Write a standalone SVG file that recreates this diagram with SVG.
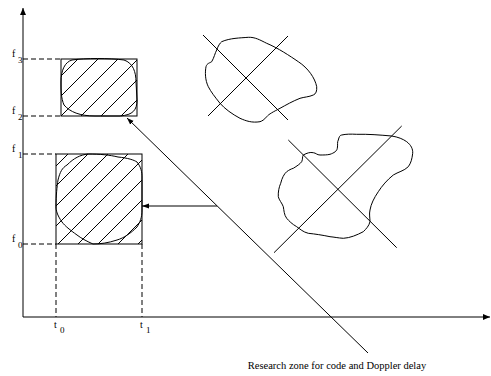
<svg xmlns="http://www.w3.org/2000/svg" width="491" height="376" viewBox="0 0 491 376">
<style>
.ln{stroke:#000;stroke-width:1;fill:none}
.dash{stroke:#000;stroke-width:1;fill:none;stroke-dasharray:5,3}
.lbl{font-family:"Liberation Serif","Times New Roman",serif;font-size:10px;fill:#000}
.sub{font-family:"Liberation Serif","Times New Roman",serif;font-size:9px;fill:#000}
.cap{font-family:"Liberation Serif","Times New Roman",serif;font-size:10.5px;fill:#000}
</style>
<defs>
<marker id="ah" markerWidth="8" markerHeight="6" refX="7" refY="3" orient="auto" markerUnits="userSpaceOnUse">
<path d="M0,0.5 L7,3 L0,5.5 Z" fill="#000"/>
</marker>
<marker id="axh" markerWidth="8" markerHeight="8" refX="7" refY="4" orient="auto" markerUnits="userSpaceOnUse">
<path d="M0,1 L7,4 L0,7 Z" fill="#000"/>
</marker>
<clipPath id="clipTop"><rect x="61" y="59" width="76" height="57"/></clipPath>
<clipPath id="clipBot"><rect x="56" y="154" width="86" height="90"/></clipPath>
</defs>
<rect width="491" height="376" fill="#fff"/>
<g id="axes">
<line class="ln" x1="23" y1="317" x2="23" y2="8" marker-end="url(#axh)"/>
<line class="ln" x1="23" y1="317" x2="490" y2="317" marker-end="url(#axh)"/>
<line class="dash" x1="23" y1="59" x2="61" y2="59"/>
<line class="dash" x1="23" y1="116" x2="61" y2="116"/>
<line class="dash" x1="23" y1="154" x2="56" y2="154"/>
<line class="dash" x1="23" y1="244" x2="56" y2="244"/>
<line class="dash" x1="56" y1="244" x2="56" y2="317"/>
<line class="dash" x1="142" y1="244" x2="142" y2="317"/>
<text class="lbl" x="12" y="57">f</text><text class="sub" x="18" y="63">3</text>
<text class="lbl" x="12" y="114">f</text><text class="sub" x="18" y="120">2</text>
<text class="lbl" x="12" y="152">f</text><text class="sub" x="18" y="158">1</text>
<text class="lbl" x="12" y="242">f</text><text class="sub" x="18" y="248">0</text>
<text class="lbl" x="54" y="328">t</text><text class="sub" x="60" y="333">0</text>
<text class="lbl" x="140" y="328">t</text><text class="sub" x="146" y="333">1</text>
</g>
<g id="zone-top">
<g clip-path="url(#clipTop)" class="ln">
<line x1="0" y1="137" x2="137" y2="0"/>
<line x1="0" y1="157" x2="157" y2="0"/>
<line x1="0" y1="177" x2="177" y2="0"/>
<line x1="0" y1="197" x2="197" y2="0"/>
<line x1="0" y1="217" x2="217" y2="0"/>
<line x1="0" y1="237" x2="237" y2="0"/>
</g>
<rect x="61" y="59" width="76" height="57" class="ln"/>
<path class="ln" d="M72,60 C85,58 110,58 124,60 C133,63 136,72 136,82 L137,100 C137,110 133,115 120,116 L95,116 C80,116 70,112 64,105 C61,98 61,90 61,82 C61,70 65,62 72,60 Z"/>
</g>
<g id="zone-bottom">
<g clip-path="url(#clipBot)" class="ln">
<line x1="0" y1="222" x2="222" y2="0"/>
<line x1="0" y1="242" x2="242" y2="0"/>
<line x1="0" y1="262" x2="262" y2="0"/>
<line x1="0" y1="282" x2="282" y2="0"/>
<line x1="0" y1="302" x2="302" y2="0"/>
<line x1="0" y1="322" x2="322" y2="0"/>
<line x1="0" y1="342" x2="342" y2="0"/>
<line x1="0" y1="362" x2="362" y2="0"/>
<line x1="0" y1="382" x2="382" y2="0"/>
</g>
<rect x="56" y="154" width="86" height="90" class="ln"/>
<path class="ln" d="M58,180 C60,172 62,168 67,165 C74,158 80,155 88,154 C100,154 110,155 118,157 C128,158 134,160 137,162 C141,167 142,172 142,177 L142,210 C142,218 140,222 137,227 C131,233 124,238 117,240 C108,243 100,244 93,244 C86,241 81,238 77,235 C70,230 65,226 62,222 C57,215 56,210 56,207 C56,195 57,187 58,180 Z"/>
</g>
<g id="blob-1">
<path class="ln" d="M221.7,41.7 C230,38 240,38 248.3,37.3 C255,37 260,40 266.7,43.3 C278,48 290,56 298.3,61.7 C308,68 315,78 316.7,86.7 C317,91 316,94 313.3,95 C309,97 304,97 300,98.3 C293,101 286,105 280,108.3 C273,112 269,114 266.7,116.7 C264,120 262,121 260,121.7 C252,123 246,121 240,118.3 C232,114 225,109 220,103.3 C215,97 211,92 208.3,86.7 C205,80 205,72 206,66.7 C207,63 210,63 211.7,61.7 C214,58 215,53 216.7,50 C218,46 220,43 221.7,41.7 Z"/>
<line class="ln" x1="203" y1="35" x2="288" y2="120"/>
<line class="ln" x1="288" y1="36" x2="208" y2="116"/>
</g>
<g id="blob-2">
<path class="ln" d="M303.3,155 C307,153 310,152 313.3,152.7 C316,153 317,155 320,155 C324,155 327,155 330,154.3 C334,153 337,151 337.3,148.3 C338,145 337,142 338.3,140 C339,137 340,135 341.7,135 C346,134 351,134 356.7,134.3 C368,134 380,135 391.7,136 C398,137 403,139 406.7,141.7 C411,145 413,149 412.7,153.3 C412,159 411,163 408.3,166.7 C404,171 398,172 393.3,175 C387,180 382,186 378.3,191.7 C374,198 371,204 370,210 C369,214 370,218 370,221.7 C369,226 366,229 363.3,231.7 C357,235 350,238 343.3,238.3 C338,238 334,237 330,236.7 C322,235 315,234 308.3,233.3 C303,232 300,229 296.7,226.7 C292,224 289,221 286.7,218.3 C284,215 284,210 283.3,206.7 C282,203 279,200 278.3,196.7 C278,192 279,187 280.7,183.3 C282,178 284,174 286.7,171.7 C289,170 291,169 293.3,168.3 C297,166 300,164 301.7,161.7 C303,159 302,157 303.3,155 Z"/>
<line class="ln" x1="288.3" y1="140" x2="396.7" y2="247.7"/>
<line class="ln" x1="401.7" y1="126" x2="274" y2="252.7"/>
</g>
<g id="connectors">
<line class="ln" x1="368" y1="353" x2="127" y2="118" marker-end="url(#ah)"/>
<line class="ln" x1="217" y1="206" x2="142" y2="206" marker-end="url(#ah)"/>
</g>
<g id="caption">
<text class="cap" x="337" y="369" text-anchor="middle">Research zone for code and Doppler delay</text>
</g>
</svg>
